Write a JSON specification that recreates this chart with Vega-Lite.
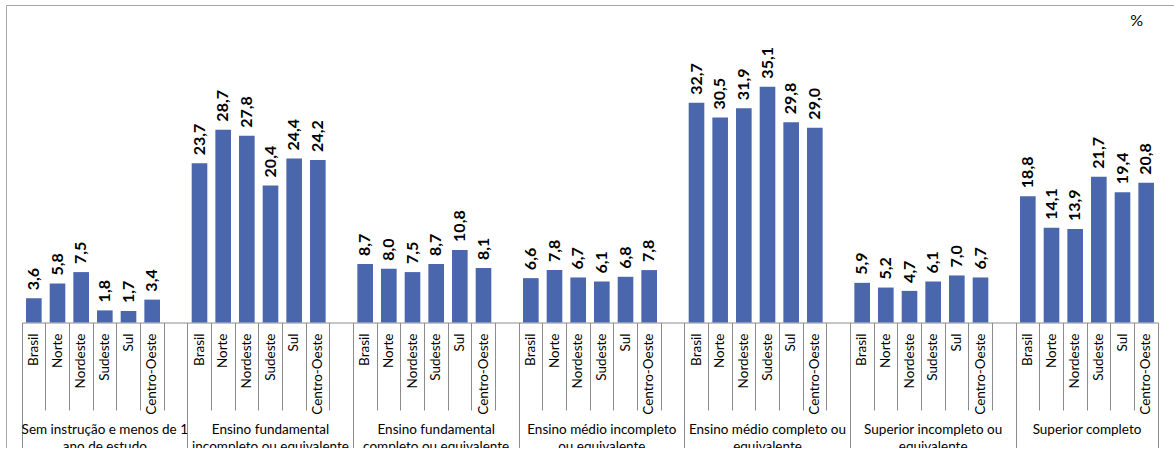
{
  "$schema": "https://vega.github.io/schema/vega-lite/v6.json",
  "autosize": "none",
  "padding": {"left": 6, "top": 5, "right": 0, "bottom": 0},
  "width": 1174,
  "height": 443,
  "config": {
    "locale": {"number": {"decimal": ",", "thousands": ".", "grouping": [3], "currency": ["R$", ""]}},
    "view": {"stroke": "#a6a6a6", "strokeWidth": 1},
    "font": "Lato"
  },
  "title": {"text": "%", "anchor": "end", "frame": "group", "offset": 0, "dx": -37, "dy": 37, "baseline": "alphabetic", "fontSize": 16, "fontWeight": "normal", "font": "Lato", "color": "#000000"},
  "data": {"values": [
    {"grupo": "1", "regiao": "Brasil", "chave": "1|Brasil", "valor": 3.6},
    {"grupo": "1", "regiao": "Norte", "chave": "1|Norte", "valor": 5.8},
    {"grupo": "1", "regiao": "Nordeste", "chave": "1|Nordeste", "valor": 7.5},
    {"grupo": "1", "regiao": "Sudeste", "chave": "1|Sudeste", "valor": 1.8},
    {"grupo": "1", "regiao": "Sul", "chave": "1|Sul", "valor": 1.7},
    {"grupo": "1", "regiao": "Centro-Oeste", "chave": "1|Centro-Oeste", "valor": 3.4},
    {"grupo": "2", "regiao": "Brasil", "chave": "2|Brasil", "valor": 23.7},
    {"grupo": "2", "regiao": "Norte", "chave": "2|Norte", "valor": 28.7},
    {"grupo": "2", "regiao": "Nordeste", "chave": "2|Nordeste", "valor": 27.8},
    {"grupo": "2", "regiao": "Sudeste", "chave": "2|Sudeste", "valor": 20.4},
    {"grupo": "2", "regiao": "Sul", "chave": "2|Sul", "valor": 24.4},
    {"grupo": "2", "regiao": "Centro-Oeste", "chave": "2|Centro-Oeste", "valor": 24.2},
    {"grupo": "3", "regiao": "Brasil", "chave": "3|Brasil", "valor": 8.7},
    {"grupo": "3", "regiao": "Norte", "chave": "3|Norte", "valor": 8.0},
    {"grupo": "3", "regiao": "Nordeste", "chave": "3|Nordeste", "valor": 7.5},
    {"grupo": "3", "regiao": "Sudeste", "chave": "3|Sudeste", "valor": 8.7},
    {"grupo": "3", "regiao": "Sul", "chave": "3|Sul", "valor": 10.8},
    {"grupo": "3", "regiao": "Centro-Oeste", "chave": "3|Centro-Oeste", "valor": 8.1},
    {"grupo": "4", "regiao": "Brasil", "chave": "4|Brasil", "valor": 6.6},
    {"grupo": "4", "regiao": "Norte", "chave": "4|Norte", "valor": 7.8},
    {"grupo": "4", "regiao": "Nordeste", "chave": "4|Nordeste", "valor": 6.7},
    {"grupo": "4", "regiao": "Sudeste", "chave": "4|Sudeste", "valor": 6.1},
    {"grupo": "4", "regiao": "Sul", "chave": "4|Sul", "valor": 6.8},
    {"grupo": "4", "regiao": "Centro-Oeste", "chave": "4|Centro-Oeste", "valor": 7.8},
    {"grupo": "5", "regiao": "Brasil", "chave": "5|Brasil", "valor": 32.7},
    {"grupo": "5", "regiao": "Norte", "chave": "5|Norte", "valor": 30.5},
    {"grupo": "5", "regiao": "Nordeste", "chave": "5|Nordeste", "valor": 31.9},
    {"grupo": "5", "regiao": "Sudeste", "chave": "5|Sudeste", "valor": 35.1},
    {"grupo": "5", "regiao": "Sul", "chave": "5|Sul", "valor": 29.8},
    {"grupo": "5", "regiao": "Centro-Oeste", "chave": "5|Centro-Oeste", "valor": 29.0},
    {"grupo": "6", "regiao": "Brasil", "chave": "6|Brasil", "valor": 5.9},
    {"grupo": "6", "regiao": "Norte", "chave": "6|Norte", "valor": 5.2},
    {"grupo": "6", "regiao": "Nordeste", "chave": "6|Nordeste", "valor": 4.7},
    {"grupo": "6", "regiao": "Sudeste", "chave": "6|Sudeste", "valor": 6.1},
    {"grupo": "6", "regiao": "Sul", "chave": "6|Sul", "valor": 7.0},
    {"grupo": "6", "regiao": "Centro-Oeste", "chave": "6|Centro-Oeste", "valor": 6.7},
    {"grupo": "7", "regiao": "Brasil", "chave": "7|Brasil", "valor": 18.8},
    {"grupo": "7", "regiao": "Norte", "chave": "7|Norte", "valor": 14.1},
    {"grupo": "7", "regiao": "Nordeste", "chave": "7|Nordeste", "valor": 13.9},
    {"grupo": "7", "regiao": "Sudeste", "chave": "7|Sudeste", "valor": 21.7},
    {"grupo": "7", "regiao": "Sul", "chave": "7|Sul", "valor": 19.4},
    {"grupo": "7", "regiao": "Centro-Oeste", "chave": "7|Centro-Oeste", "valor": 20.8}
  ]},
  "layer": [
    {
      "mark": {"type": "bar", "width": {"band": 0.66}, "color": "#4a66ac"},
      "encoding": {
        "x": {
          "field": "chave", "type": "ordinal",
          "scale": {
            "domain": ["1|Brasil","1|Norte","1|Nordeste","1|Sudeste","1|Sul","1|Centro-Oeste","1|gap",
                       "2|Brasil","2|Norte","2|Nordeste","2|Sudeste","2|Sul","2|Centro-Oeste","2|gap",
                       "3|Brasil","3|Norte","3|Nordeste","3|Sudeste","3|Sul","3|Centro-Oeste","3|gap",
                       "4|Brasil","4|Norte","4|Nordeste","4|Sudeste","4|Sul","4|Centro-Oeste","4|gap",
                       "5|Brasil","5|Norte","5|Nordeste","5|Sudeste","5|Sul","5|Centro-Oeste","5|gap",
                       "6|Brasil","6|Norte","6|Nordeste","6|Sudeste","6|Sul","6|Centro-Oeste","6|gap",
                       "7|Brasil","7|Norte","7|Nordeste","7|Sudeste","7|Sul","7|Centro-Oeste"],
            "range": [16, 1152], "paddingInner": 0, "paddingOuter": 0, "round": false
          },
          "axis": {
            "orient": "bottom", "offset": -125.5, "title": null,
            "domain": true, "domainColor": "#8c8c8c",
            "ticks": true, "tickColor": "#8c8c8c", "bandPosition": 1, "tickExtra": true,
            "tickSize": {"expr": "datum.extra ? 125.5 : ((indexof(datum.value, 'gap') >= 0 || datum.value == '7|Centro-Oeste') ? 125.5 : 87.5)"},
            "labelPadding": {"expr": "datum.value == '7|Centro-Oeste' ? -115 : -77"},
            "labelAngle": 270, "labelAlign": "right", "labelBaseline": "middle",
            "labelExpr": "datum.extra ? '' : (indexof(datum.value, 'gap') >= 0 ? '' : split(datum.value, '|')[1])",
            "labelFont": "Lato", "labelFontSize": 13.5, "labelColor": "#000000",
            "labelOverlap": false, "labelBound": false, "labelFlush": false
          }
        },
        "y": {
          "field": "valor", "type": "quantitative",
          "scale": {"domain": [-18.68, 47.25], "nice": false, "zero": false},
          "axis": null
        }
      }
    },
    {
      "mark": {"type": "text", "angle": 270, "align": "left", "baseline": "middle", "dx": 8, "font": "Lato", "fontSize": 16, "fontWeight": "bold", "color": "#000000"},
      "encoding": {
        "x": {
          "field": "chave", "type": "ordinal",
          "axis": {
            "orient": "bottom", "offset": -125.5, "title": null,
            "domain": false, "ticks": false, "tickSize": 0,
            "values": ["1|Sudeste","2|Sudeste","3|Sudeste","4|Sudeste","5|Sudeste","6|Sudeste","7|Sudeste"],
            "labelExpr": "datum.value == '1|Sudeste' ? ['Sem instrução e menos de 1', 'ano de estudo'] : datum.value == '2|Sudeste' ? ['Ensino fundamental', 'incompleto ou equivalente'] : datum.value == '3|Sudeste' ? ['Ensino fundamental', 'completo ou equivalente'] : datum.value == '4|Sudeste' ? ['Ensino médio incompleto', 'ou equivalente'] : datum.value == '5|Sudeste' ? ['Ensino médio completo ou', 'equivalente'] : datum.value == '6|Sudeste' ? ['Superior incompleto ou', 'equivalente'] : 'Superior completo'",
            "labelOffset": {"expr": "datum.value == '7|Sudeste' ? -11.83 : 0"},
            "labelAngle": 0, "labelAlign": "center", "labelBaseline": "top",
            "labelPadding": 100, "labelLineHeight": 17,
            "labelFont": "Lato", "labelFontSize": 13.5, "labelColor": "#000000",
            "labelOverlap": false, "labelBound": false, "labelFlush": false
          }
        },
        "y": {"field": "valor", "type": "quantitative"},
        "text": {"field": "valor", "type": "quantitative", "format": ".1f"}
      }
    }
  ],
  "resolve": {"axis": {"x": "independent"}}
}
